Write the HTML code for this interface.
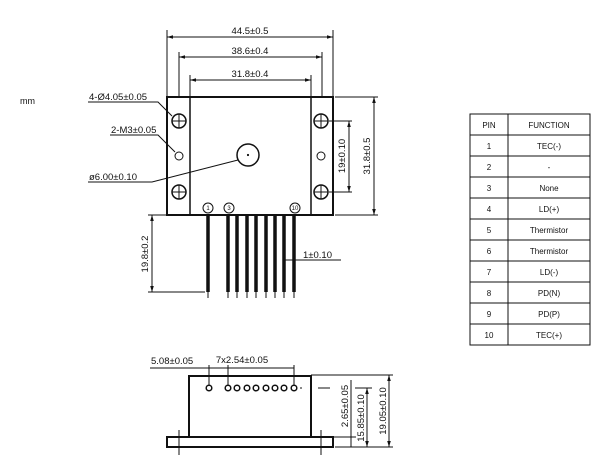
<!DOCTYPE html>
<html><head><style>body{margin:0;background:#fff}svg{display:block}text{font-family:"Liberation Sans",sans-serif;fill:#111}</style></head>
<body>
<svg width="600" height="463" viewBox="0 0 600 463" xmlns="http://www.w3.org/2000/svg">
<defs><marker id="a" viewBox="0 0 10 10" refX="10" refY="5" markerWidth="6" markerHeight="6" orient="auto-start-reverse"><path d="M0,2L10,5L0,8z" fill="#111"/></marker></defs>
<g stroke="#111" fill="none" stroke-width="1">
<text x="20" y="104" font-size="9" stroke="none">mm</text>
<line x1="167" y1="30" x2="167" y2="96"/><line x1="333" y1="30" x2="333" y2="96"/>
<line x1="167" y1="37" x2="333" y2="37" marker-start="url(#a)" marker-end="url(#a)"/>
<line x1="179" y1="52" x2="179" y2="96"/><line x1="322" y1="52" x2="322" y2="96"/>
<line x1="179" y1="57" x2="322" y2="57" marker-start="url(#a)" marker-end="url(#a)"/>
<line x1="190" y1="75" x2="190" y2="96"/><line x1="311" y1="75" x2="311" y2="96"/>
<line x1="190" y1="80" x2="311" y2="80" marker-start="url(#a)" marker-end="url(#a)"/>
<rect x="167" y="97" width="166" height="118" stroke-width="2"/>
<line x1="190" y1="97" x2="190" y2="215" stroke-width="1.5"/><line x1="311" y1="97" x2="311" y2="215" stroke-width="1.5"/>
<g stroke-width="1.5">
<circle cx="179" cy="121" r="7"/><circle cx="179" cy="192" r="7"/><circle cx="321" cy="121" r="7"/><circle cx="321" cy="192" r="7"/>
</g>
<path d="M172,121h14M179,114v14M172,192h14M179,185v14M314,121h14M321,114v14M314,192h14M321,185v14"/>
<circle cx="179" cy="156" r="4"/><circle cx="321" cy="156" r="4"/>
<circle cx="248" cy="155" r="11" stroke-width="1.5"/>
<circle cx="248" cy="155" r="0.6" fill="#111"/>
<path d="M88,102H158L172,116"/><path d="M110,135H158L175,152"/><path d="M88,182H152L238,160"/>
<line x1="335" y1="97" x2="378" y2="97"/><line x1="335" y1="215" x2="378" y2="215"/>
<line x1="374" y1="97" x2="374" y2="215" marker-start="url(#a)" marker-end="url(#a)"/>
<line x1="329" y1="121" x2="352" y2="121"/><line x1="329" y1="192" x2="352" y2="192"/>
<line x1="349" y1="121" x2="349" y2="192" marker-start="url(#a)" marker-end="url(#a)"/>
<line x1="148" y1="215" x2="166" y2="215"/><line x1="148" y1="292" x2="205" y2="292"/>
<line x1="152" y1="215" x2="152" y2="292" marker-start="url(#a)" marker-end="url(#a)"/>
<g stroke-width="3.5">
<line x1="208" y1="215" x2="208" y2="292"/><line x1="228" y1="215" x2="228" y2="292"/><line x1="237" y1="215" x2="237" y2="292"/><line x1="247" y1="215" x2="247" y2="292"/><line x1="256" y1="215" x2="256" y2="292"/><line x1="266" y1="215" x2="266" y2="292"/><line x1="275" y1="215" x2="275" y2="292"/><line x1="284" y1="215" x2="284" y2="292"/><line x1="294" y1="215" x2="294" y2="292"/>
</g>
<path d="M208,292v6M228,292v6M237,292v6M247,292v6M256,292v6M266,292v6M275,292v6M284,292v6M294,292v6"/>
<circle cx="208" cy="208" r="5" fill="#fff"/><circle cx="229" cy="208" r="5" fill="#fff"/><circle cx="295" cy="208" r="5" fill="#fff"/>
<path d="M285,260H341"/>
<rect x="189" y="376" width="122" height="61" stroke-width="2"/>
<rect x="167" y="437" width="166" height="10" stroke-width="2"/>
<path d="M179,430v25M321,430v25"/>
<path d="M209,365v23M228,365v23M294,365v23M150,368H209M209,368h19M228,368h66"/>
<g fill="#fff" stroke-width="1.5"><circle cx="209" cy="388" r="2.8"/><circle cx="228" cy="388" r="2.8"/><circle cx="237" cy="388" r="2.8"/><circle cx="247" cy="388" r="2.8"/><circle cx="256" cy="388" r="2.8"/><circle cx="266" cy="388" r="2.8"/><circle cx="275" cy="388" r="2.8"/><circle cx="284" cy="388" r="2.8"/><circle cx="294" cy="388" r="2.8"/></g>
<path d="M300,388h2M318,388h12"/>
<path d="M311,375H393M335,447H393M333,437H356M355,388H372"/>
<line x1="351" y1="380" x2="351" y2="447"/>
<line x1="367" y1="388" x2="367" y2="447" marker-start="url(#a)" marker-end="url(#a)"/>
<line x1="389" y1="375" x2="389" y2="447" marker-start="url(#a)" marker-end="url(#a)"/>
<rect x="470" y="114" width="120" height="231"/>
<line x1="508" y1="114" x2="508" y2="345"/>
<path d="M470,135h120M470,156h120M470,177h120M470,198h120M470,219h120M470,240h120M470,261h120M470,282h120M470,303h120M470,324h120"/>
</g>
<g font-size="9.5" text-anchor="middle">
<text x="250" y="34">44.5±0.5</text><text x="250" y="54">38.6±0.4</text><text x="250" y="77">31.8±0.4</text>
<text x="242" y="363">7x2.54±0.05</text>
</g>
<g font-size="9.5">
<text x="89" y="100">4-Ø4.05±0.05</text><text x="111" y="133">2-M3±0.05</text><text x="89" y="180">ø6.00±0.10</text>
<text x="303" y="258">1±0.10</text><text x="151" y="364">5.08±0.05</text>
</g>
<g font-size="6" text-anchor="middle">
<text x="208" y="210">1</text><text x="229" y="210">3</text><text x="295" y="210">10</text>
</g>
<g font-size="9.5" text-anchor="middle">
<text transform="translate(370,156) rotate(-90)">31.8±0.5</text>
<text transform="translate(345,156) rotate(-90)">19±0.10</text>
<text transform="translate(148,254) rotate(-90)">19.8±0.2</text>
<text transform="translate(348,406) rotate(-90)">2.65±0.05</text>
<text transform="translate(364,418) rotate(-90)">15.85±0.10</text>
<text transform="translate(386,411) rotate(-90)">19.05±0.10</text>
</g>
<g font-size="8" text-anchor="middle">
<text x="489" y="128">PIN</text><text x="549" y="128">FUNCTION</text>
<text x="489" y="149">1</text><text x="549" y="149">TEC(-)</text>
<text x="489" y="170">2</text><text x="549" y="170">-</text>
<text x="489" y="191">3</text><text x="549" y="191">None</text>
<text x="489" y="212">4</text><text x="549" y="212">LD(+)</text>
<text x="489" y="233">5</text><text x="549" y="233">Thermistor</text>
<text x="489" y="254">6</text><text x="549" y="254">Thermistor</text>
<text x="489" y="275">7</text><text x="549" y="275">LD(-)</text>
<text x="489" y="296">8</text><text x="549" y="296">PD(N)</text>
<text x="489" y="317">9</text><text x="549" y="317">PD(P)</text>
<text x="489" y="338">10</text><text x="549" y="338">TEC(+)</text>
</g>
</svg>
</body></html>
